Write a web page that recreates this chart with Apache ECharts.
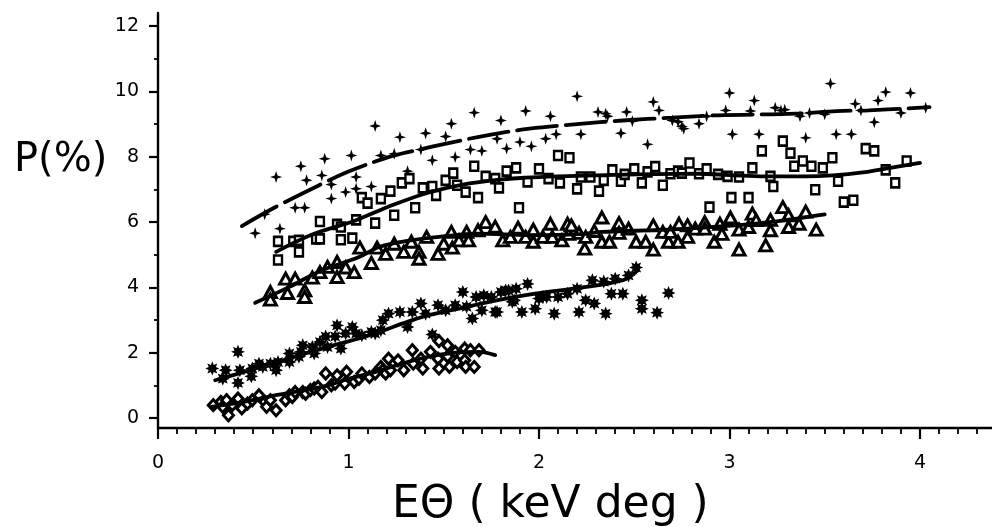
<!DOCTYPE html>
<html>
<head>
<meta charset="utf-8">
<script src="https://cdn.jsdelivr.net/npm/echarts@6/dist/echarts.min.js"></script>
<style>html,body{margin:0;padding:0;background:#fff;}#c{width:992px;height:527px;}</style>
</head>
<body>
<div id="c"></div>
<script>
// ---- data ----
var xMajorTicks = [0, 1, 2, 3, 4];
var yMajorTicks = [0, 2, 4, 6, 8, 10, 12];
var xTitle = 'EΘ ( keV deg )';
var yTitle = 'P(%)';

var plusPts = [[0.51,5.66],[0.56,6.24],[0.62,7.38],[0.64,5.80],[0.72,6.44],[0.77,6.44],[0.78,7.28],[0.75,7.71],[0.86,7.43],[0.875,7.94],[0.91,7.15],[0.91,6.72],[0.985,6.92],[1.015,8.04],[1.04,7.38],[1.04,7.02],[1.12,7.09],[1.14,8.94],[1.17,8.04],[1.24,8.09],[1.27,8.60],[1.31,7.56],[1.38,8.22],[1.405,8.72],[1.44,7.89],[1.51,8.62],[1.54,9.01],[1.56,7.99],[1.64,8.22],[1.66,9.35],[1.70,8.18],[1.78,8.55],[1.80,9.11],[1.83,8.25],[1.90,8.45],[1.93,9.40],[1.96,8.32],[2.035,8.55],[2.06,9.24],[2.09,8.69],[2.20,9.85],[2.22,8.69],[2.31,9.37],[2.35,9.32],[2.36,9.24],[2.43,8.72],[2.46,9.37],[2.49,9.09],[2.57,8.38],[2.60,9.68],[2.63,9.42],[2.70,9.11],[2.73,9.07],[2.75,8.93],[2.76,8.86],[2.84,9.01],[2.88,9.24],[2.98,9.42],[3.00,9.95],[3.015,8.69],[3.11,9.40],[3.13,9.72],[3.155,8.69],[3.24,9.50],[3.27,9.42],[3.29,9.44],[3.37,9.24],[3.40,8.58],[3.42,9.34],[3.50,9.30],[3.53,10.24],[3.56,8.69],[3.64,8.69],[3.66,9.62],[3.69,9.42],[3.76,9.06],[3.78,9.72],[3.82,9.98],[3.90,9.34],[3.95,9.95],[4.03,9.50]];
var plusFit = [[0.44,5.88],[0.62,6.47],[0.86,7.17],[1.0,7.55],[1.21,7.99],[1.34,8.18],[1.55,8.45],[1.72,8.65],[1.95,8.86],[2.2,9.0],[2.44,9.11],[2.7,9.2],[2.94,9.27],[3.35,9.32],[3.56,9.40],[3.73,9.42],[4.05,9.52]];

var squarePts = [[0.63,5.41],[0.63,4.84],[0.74,5.09],[0.71,5.41],[0.74,5.44],[0.83,5.49],[0.85,5.49],[0.85,6.02],[0.94,5.93],[0.96,5.85],[0.96,5.46],[1.02,5.51],[1.04,6.07],[1.14,5.97],[1.07,6.75],[1.10,6.58],[1.17,6.72],[1.22,6.95],[1.24,6.21],[1.28,7.20],[1.32,7.33],[1.35,6.44],[1.39,7.05],[1.44,7.09],[1.46,6.82],[1.51,7.28],[1.55,7.50],[1.57,7.13],[1.615,6.92],[1.66,7.71],[1.68,6.75],[1.72,7.40],[1.77,7.33],[1.79,7.05],[1.83,7.56],[1.88,7.66],[1.895,6.44],[1.94,7.23],[2.0,7.63],[2.05,7.33],[2.10,8.04],[2.11,7.20],[2.16,7.97],[2.20,7.02],[2.22,7.38],[2.27,7.38],[2.315,6.95],[2.34,7.28],[2.385,7.60],[2.43,7.25],[2.45,7.46],[2.50,7.63],[2.54,7.20],[2.57,7.54],[2.61,7.70],[2.65,7.13],[2.69,7.48],[2.73,7.56],[2.75,7.50],[2.79,7.81],[2.84,7.48],[2.88,7.63],[2.895,6.46],[2.94,7.46],[2.99,7.40],[3.01,6.75],[3.05,7.38],[3.10,6.75],[3.12,7.66],[3.17,8.18],[3.215,7.40],[3.23,7.09],[3.28,8.48],[3.32,8.11],[3.34,7.71],[3.385,7.87],[3.43,7.71],[3.45,6.99],[3.49,7.66],[3.54,7.97],[3.57,7.25],[3.60,6.61],[3.65,6.67],[3.715,8.25],[3.76,8.18],[3.82,7.60],[3.87,7.20],[3.93,7.87]];
var squareFit = [[0.62,5.09],[0.8,5.6],[1.04,6.06],[1.2,6.45],[1.4,6.87],[1.6,7.15],[1.79,7.3],[1.93,7.36],[2.1,7.4],[2.3,7.43],[2.6,7.47],[2.84,7.48],[3.0,7.44],[3.19,7.40],[3.4,7.40],[3.54,7.43],[3.7,7.52],[3.82,7.64],[4.0,7.81]];

var trianglePts = [[0.59,3.86],[0.59,3.63],[0.67,4.27],[0.72,4.27],[0.68,3.83],[0.77,3.91],[0.77,3.71],[0.81,4.30],[0.85,4.47],[0.89,4.63],[0.94,4.78],[0.94,4.32],[0.985,4.61],[1.03,4.47],[1.06,5.22],[1.12,4.75],[1.15,5.22],[1.195,5.03],[1.24,5.34],[1.29,5.09],[1.33,5.40],[1.37,5.09],[1.37,4.88],[1.41,5.55],[1.47,5.03],[1.50,5.34],[1.54,5.70],[1.545,5.22],[1.58,5.44],[1.62,5.70],[1.63,5.44],[1.68,5.75],[1.72,6.00],[1.77,5.86],[1.81,5.44],[1.85,5.55],[1.89,5.83],[1.93,5.55],[1.97,5.77],[1.97,5.40],[2.02,5.55],[2.06,5.95],[2.07,5.55],[2.12,5.44],[2.15,5.95],[2.155,5.64],[2.17,5.90],[2.21,5.67],[2.24,5.19],[2.245,5.55],[2.29,5.73],[2.33,6.14],[2.33,5.40],[2.37,5.40],[2.42,5.97],[2.42,5.67],[2.47,5.80],[2.51,5.40],[2.56,5.40],[2.60,5.90],[2.60,5.16],[2.65,5.70],[2.68,5.40],[2.69,5.70],[2.73,5.40],[2.735,5.95],[2.78,5.90],[2.78,5.55],[2.82,5.80],[2.87,6.00],[2.87,5.80],[2.92,5.40],[2.95,5.95],[2.96,5.64],[3.005,6.14],[3.05,5.16],[3.05,5.77],[3.10,5.85],[3.12,6.26],[3.14,6.06],[3.19,5.29],[3.215,6.07],[3.215,5.75],[3.28,6.46],[3.31,6.21],[3.31,5.85],[3.365,5.95],[3.40,6.32],[3.455,5.77]];
var triangleFit = [[0.51,3.53],[0.69,4.02],[0.85,4.5],[1.055,4.93],[1.16,5.24],[1.3,5.42],[1.475,5.55],[1.685,5.65],[1.95,5.60],[2.21,5.63],[2.33,5.70],[2.68,5.77],[3.03,5.90],[3.21,6.00],[3.5,6.24]];

var asteriskPts = [[0.285,1.52],[0.355,1.47],[0.42,2.03],[0.43,1.47],[0.42,1.08],[0.34,1.21],[0.49,1.28],[0.495,1.52],[0.53,1.67],[0.55,1.57],[0.59,1.67],[0.62,1.47],[0.63,1.72],[0.69,1.72],[0.69,1.98],[0.74,1.88],[0.75,2.03],[0.76,2.23],[0.81,2.18],[0.82,1.98],[0.85,2.33],[0.88,2.50],[0.89,2.18],[0.94,2.84],[0.96,2.13],[0.93,2.50],[0.985,2.59],[1.02,2.79],[1.04,2.59],[1.07,2.54],[1.12,2.64],[1.14,2.59],[1.17,2.69],[1.18,3.0],[1.21,3.20],[1.27,3.25],[1.31,2.79],[1.335,3.25],[1.38,3.51],[1.405,3.20],[1.44,2.56],[1.47,3.46],[1.51,3.30],[1.56,3.46],[1.60,3.86],[1.62,3.41],[1.65,3.05],[1.67,3.71],[1.70,3.30],[1.71,3.76],[1.75,3.71],[1.77,3.25],[1.78,3.25],[1.80,3.86],[1.825,3.91],[1.84,3.91],[1.86,3.56],[1.87,3.61],[1.88,3.96],[1.91,3.25],[1.94,4.11],[1.98,3.35],[2.0,3.66],[2.02,3.71],[2.04,3.71],[2.08,3.20],[2.10,3.71],[2.15,3.81],[2.20,3.96],[2.21,3.25],[2.245,3.61],[2.28,4.22],[2.29,3.51],[2.34,4.18],[2.35,3.20],[2.38,3.81],[2.40,4.27],[2.44,3.81],[2.47,4.37],[2.51,4.61],[2.54,3.61],[2.54,3.35],[2.62,3.23],[2.68,3.83]];
var asteriskFit = [[0.30,1.16],[0.5,1.5],[0.7,1.85],[0.9,2.2],[1.055,2.44],[1.16,2.64],[1.335,3.0],[1.42,3.15],[1.615,3.4],[1.77,3.6],[1.98,3.81],[2.2,3.98],[2.44,4.22],[2.52,4.53]];

var diamondPts = [[0.29,0.40],[0.33,0.50],[0.34,0.35],[0.37,0.09],[0.36,0.55],[0.39,0.40],[0.42,0.60],[0.44,0.30],[0.47,0.45],[0.495,0.55],[0.53,0.70],[0.56,0.50],[0.57,0.35],[0.59,0.55],[0.62,0.24],[0.67,0.55],[0.69,0.70],[0.705,0.65],[0.72,0.80],[0.76,0.80],[0.775,0.75],[0.80,0.86],[0.82,0.91],[0.84,0.96],[0.86,0.80],[0.88,1.37],[0.91,1.01],[0.93,1.06],[0.94,1.31],[0.98,1.06],[0.99,1.42],[1.03,1.11],[1.055,1.21],[1.07,1.37],[1.11,1.26],[1.14,1.37],[1.17,1.57],[1.18,1.47],[1.195,1.37],[1.21,1.82],[1.22,1.47],[1.26,1.77],[1.29,1.47],[1.335,2.08],[1.34,1.67],[1.38,1.82],[1.39,1.52],[1.43,2.03],[1.475,2.36],[1.47,1.82],[1.475,1.52],[1.52,2.23],[1.52,1.89],[1.53,1.57],[1.56,2.03],[1.57,1.72],[1.61,1.77],[1.61,2.13],[1.615,1.57],[1.64,2.08],[1.66,1.57],[1.685,2.08]];
var diamondFit = [[0.28,0.35],[0.45,0.5],[0.635,0.72],[0.86,0.96],[1.0,1.2],[1.16,1.45],[1.3,1.7],[1.42,1.88],[1.55,2.0],[1.685,2.03],[1.77,1.93]];

// ---- build ----
function range(a, b, s) { var r = []; for (var v = a; v <= b + 1e-9; v += s) r.push(Math.round(v * 100) / 100); return r; }
var xMinor = range(0, 4.3, 0.1);
var yMinor = range(1, 11, 2);

var astPath = (function () {
  var p = [];
  for (var i = 0; i < 16; i++) {
    var r = i % 2 === 0 ? 10 : 5.5;
    var a = Math.PI * i / 8 - Math.PI / 2;
    p.push((i === 0 ? 'M' : 'L') + (10 + r * Math.cos(a)).toFixed(2) + ',' + (10 + r * Math.sin(a)).toFixed(2));
  }
  return 'path://' + p.join(' ') + ' Z';
})();
var plusPath = 'path://M5,0 L6.2,3.8 L10,5 L6.2,6.2 L5,10 L3.8,6.2 L0,5 L3.8,3.8 Z';

var FONT = 'DejaVu Sans';
var X_MAX = 4.378, Y_MIN = -0.3, Y_MAX = 12.4;

function axisBase(extra) {
  return Object.assign({
    type: 'value', splitLine: { show: false },
    axisLine: { show: false, onZero: false },
    axisLabel: { show: false }, axisTick: { show: false }, minorTick: { show: false }
  }, extra);
}

var option = {
  animation: false,
  backgroundColor: '#fff',
  grid: { left: 158, right: 0, top: 13, bottom: 99, containLabel: false },
  xAxis: [
    axisBase({ min: 0, max: X_MAX, position: 'bottom',
      axisLine: { show: true, onZero: false, lineStyle: { color: '#000', width: 2.4 } },
      axisTick: { show: true, inside: false, length: 11, customValues: xMajorTicks, lineStyle: { color: '#000', width: 2.2 } },
      axisLabel: { show: true, customValues: xMajorTicks, margin: 26, color: '#000', fontFamily: FONT, fontSize: 19 } }),
    axisBase({ min: 0, max: X_MAX, position: 'bottom',
      axisLine: { show: false, onZero: false },
      axisTick: { show: true, inside: false, length: 6, customValues: xMinor, lineStyle: { color: '#000', width: 1.8 } } })
  ],
  yAxis: [
    axisBase({ min: Y_MIN, max: Y_MAX, position: 'left',
      axisLine: { show: true, onZero: false, lineStyle: { color: '#000', width: 2.4 } },
      axisTick: { show: true, inside: false, length: 9, customValues: yMajorTicks, lineStyle: { color: '#000', width: 2.2 } },
      axisLabel: { show: true, customValues: yMajorTicks, margin: 19, color: '#000', fontFamily: FONT, fontSize: 19 } }),
    axisBase({ min: Y_MIN, max: Y_MAX, position: 'left',
      axisLine: { show: false, onZero: false },
      axisTick: { show: true, inside: false, length: 4, customValues: yMinor, lineStyle: { color: '#000', width: 1.8 } } })
  ],
  graphic: [
    { type: 'text', left: 14, top: 141, style: { text: yTitle, fontFamily: FONT, fontSize: 40, fill: '#000' } },
    { type: 'text', left: 392, top: 484, style: { text: xTitle, fontFamily: FONT, fontSize: 44, fill: '#000' } }
  ],
  series: []
};

function scatter(data, symbol, size, hollow, bw) {
  return { type: 'scatter', data: data, symbol: symbol, symbolSize: size, z: 2, silent: true,
    itemStyle: hollow ? { color: '#fff', borderColor: '#000', borderWidth: bw, opacity: 1 } : { color: '#000', opacity: 1 } };
}
function fit(data, dashed) {
  return { type: 'line', data: data, smooth: 0.35, showSymbol: false, symbol: 'none', z: 3, silent: true,
    lineStyle: { color: '#000', width: 3.8, cap: 'round', type: dashed ? [40, 9] : 'solid' } };
}
option.series.push(
  scatter(plusPts, plusPath, 12, false),
  scatter(squarePts, 'rect', [8, 9], true, 2.5),
  scatter(trianglePts, 'triangle', [12, 11], true, 3),
  scatter(asteriskPts, astPath, 14, false),
  scatter(diamondPts, 'diamond', [10, 11], true, 3),
  fit(plusFit, true), fit(squareFit, false), fit(triangleFit, false), fit(asteriskFit, false), fit(diamondFit, false)
);

var chart = echarts.init(document.getElementById('c'), null, { renderer: 'canvas' });
chart.setOption(option);
</script>
</body>
</html>
